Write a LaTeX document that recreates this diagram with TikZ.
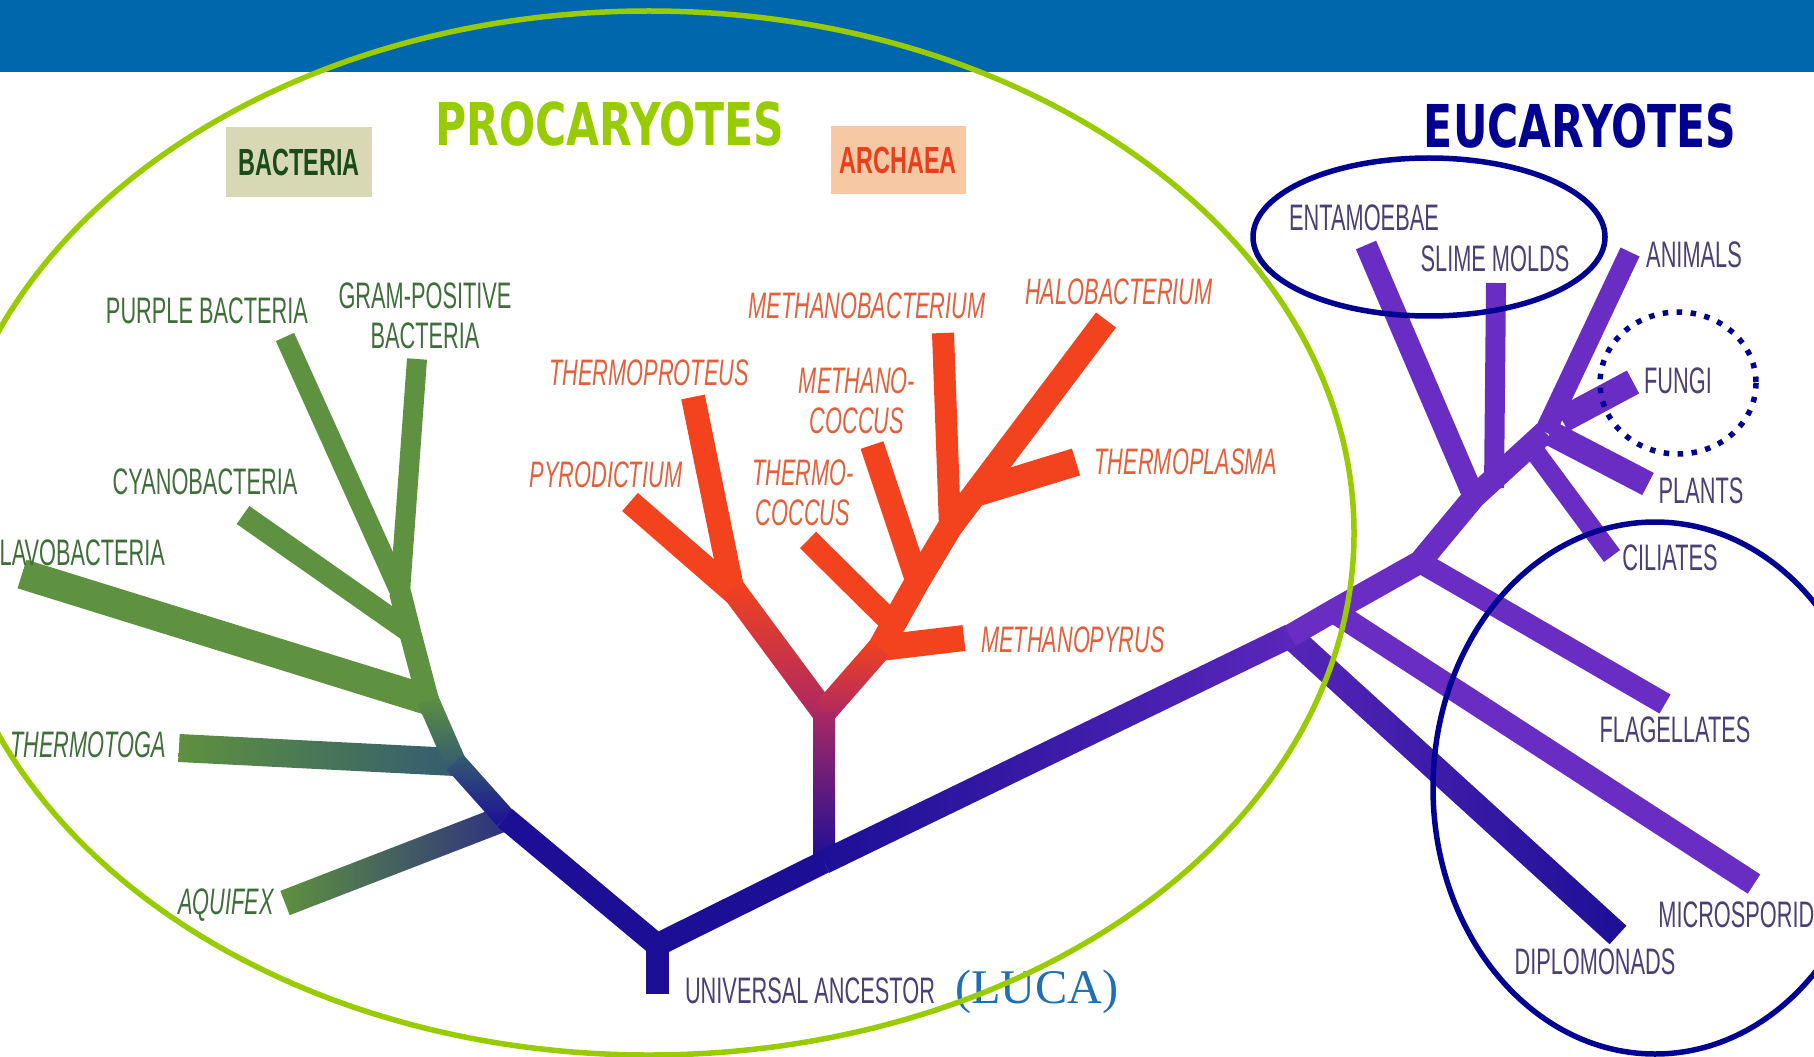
\documentclass[tikz,border=0pt]{standalone}
\usepackage{fontspec}
\setmainfont{Liberation Sans}
\newfontfamily\labfont{Liberation Sans}[FakeStretch=0.59]
\newfontfamily\boxfont{Liberation Sans}[FakeStretch=0.62]
\newfontfamily\titlefont{DejaVu Sans}[FakeStretch=0.72]
\newfontfamily\lucafont{Liberation Serif}
\usepackage{tikz}
\usetikzlibrary{calc}
\definecolor{banner}{RGB}{0,103,172}
\definecolor{lime}{RGB}{153,204,0}
\definecolor{ringblue}{RGB}{0,0,145}
\definecolor{trgreen}{RGB}{94,145,64}
\definecolor{trteal}{RGB}{52,92,112}
\definecolor{trnavy}{RGB}{28,15,150}
\definecolor{trred}{RGB}{242,66,30}
\definecolor{trmag}{RGB}{170,40,100}
\definecolor{trpurple}{RGB}{106,45,195}
\definecolor{lbgreen}{RGB}{63,110,58}
\definecolor{lbred}{RGB}{226,96,60}
\definecolor{lbpurple}{RGB}{75,63,115}
\definecolor{bactbox}{RGB}{217,216,180}
\definecolor{bacttext}{RGB}{27,74,27}
\definecolor{archbox}{RGB}{247,200,164}
\definecolor{archtext}{RGB}{232,64,28}
\definecolor{lucablue}{RGB}{31,111,178}
\tikzstyle{limbline} = [line cap=butt, line join=round]
\tikzstyle{baclabel} = [font=\labfont\fontsize{21}{23}\selectfont, text=lbgreen,
    inner sep=0pt, align=center]
\tikzstyle{arclabel} = [font=\labfont\itshape\fontsize{21}{22.5}\selectfont, text=lbred,
    inner sep=0pt, align=center]
\tikzstyle{euklabel} = [font=\labfont\fontsize{21}{23}\selectfont, text=lbpurple,
    inner sep=0pt, align=center]
\tikzstyle{boxlabel} = [font=\boxfont\bfseries\fontsize{21.5}{23}\selectfont, inner sep=0pt]
\tikzstyle{headline} = [font=\titlefont\bfseries\fontsize{33.6}{36}\selectfont, inner sep=0pt]
\tikzstyle{ring} = [draw=ringblue, line width=0.11cm]
% shaded limb between two points, half width #3
\newcommand{\gradlimb}[4]{%
  \shade[#4] ($(#1)!#3!90:(#2)$) -- ($(#1)!#3!-90:(#2)$)
    -- ($(#2)!#3!90:(#1)$) -- ($(#2)!#3!-90:(#1)$) -- cycle;}

\begin{document}
\begin{tikzpicture}[x=0.02cm,y=-0.02cm]
\useasboundingbox (0,0) rectangle (1814,1057);
\fill[banner] (0,0) rectangle (1814,72);

% headings
\node[headline, text=lime] (procar) at (610,124) {PROCARYOTES};
\node[headline, text=ringblue] (eucar) at (1580,126) {EUCARYOTES};
\node[boxlabel, fill=bactbox, text=bacttext, minimum width=2.94cm,
    minimum height=1.4cm] (bactbox) at (299,162) {BACTERIA};
\node[boxlabel, fill=archbox, text=archtext, minimum width=2.7cm,
    minimum height=1.38cm] (archbox) at (898,160) {ARCHAEA};

% bacteria
\coordinate (root) at (657,994);
\coordinate (s1) at (657,945);
\coordinate (s2) at (505,818);
\coordinate (s3) at (455,762);
\coordinate (s4) at (428,700);
\coordinate (s5) at (410,632);
\coordinate (s6) at (400,592);
\coordinate (purple) at (285,337);
\coordinate (gram) at (417,359);
\coordinate (cyano) at (243,515);
\coordinate (flavo) at (22,574);
\coordinate (thtoga) at (179,748);
\coordinate (aquif) at (285,903);

\draw[limbline, draw=trgreen, line width=0.4cm] (s6) -- (purple);
\draw[limbline, draw=trgreen, line width=0.4cm] (s6) -- (gram);
\draw[limbline, draw=trgreen, line width=0.44cm] (s5) -- (cyano);
\draw[limbline, draw=trgreen, line width=0.6cm] (s4) -- (flavo);
\gradlimb{s3}{thtoga}{0.28cm}{left color=trgreen, middle color=trgreen, right color=trteal}
\gradlimb{s2}{aquif}{0.26cm}{left color=trgreen, right color=trnavy!75!trgreen}
\draw[limbline, draw=trgreen, line width=0.44cm] (s4) -- (s5) -- (s6);
\gradlimb{s3}{s4}{0.22cm}{bottom color=trteal, top color=trgreen}
\gradlimb{s2}{s3}{0.22cm}{bottom color=trnavy, top color=trteal}

% archaea
\coordinate (a0) at (824,862);
\coordinate (afork) at (824,712);
\coordinate (al) at (732,588);
\coordinate (pybase) at (738,596);
\coordinate (tprot) at (693,397);
\coordinate (pyro) at (630,502);
\coordinate (ar1) at (880,648);
\coordinate (ar2) at (917,582);
\coordinate (ar3) at (950,527);
\coordinate (mpyr) at (964,638);
\coordinate (tcbase) at (897,628);
\coordinate (tcoc) at (808,540);
\coordinate (mcbase) at (917,580);
\coordinate (mcoc) at (872,445);
\coordinate (mbac) at (943,333);
\coordinate (halo) at (1106,320);
\coordinate (tpbase) at (978,492);
\coordinate (tplas) at (1076,462);

\draw[limbline, draw=trred, line width=0.48cm] (pybase) -- (pyro);
\draw[limbline, draw=trred, line width=0.48cm] (al) -- (tprot);
\draw[limbline, draw=trred, line width=0.52cm] (ar1) -- (mpyr);
\draw[limbline, draw=trred, line width=0.46cm] (tcbase) -- (tcoc);
\draw[limbline, draw=trred, line width=0.48cm] (mcbase) -- (mcoc);
\draw[limbline, draw=trred, line width=0.44cm] (ar3) -- (mbac);
\draw[limbline, draw=trred, line width=0.56cm] (tpbase) -- (tplas);
\draw[limbline, draw=trred, line width=0.5cm] (ar1) -- (ar2) -- (ar3) -- (halo);
\gradlimb{afork}{al}{0.25cm}{bottom color=trmag, top color=trred}
\gradlimb{afork}{ar1}{0.25cm}{bottom color=trmag, top color=trred}
\gradlimb{a0}{afork}{0.22cm}{bottom color=trnavy, top color=trmag}

% eucaryotes
\coordinate (e2) at (1290,636);
\coordinate (e3) at (1333,611);
\coordinate (e4) at (1420,562);
\coordinate (e5) at (1474,497);
\coordinate (e6) at (1545,432);
\coordinate (anim) at (1630,252);
\coordinate (entam) at (1366,245);
\coordinate (slime) at (1496,283);
\coordinate (slbase) at (1494,488);
\coordinate (fgbase) at (1562,420);
\coordinate (fungi) at (1633,382);
\coordinate (plbase) at (1550,433);
\coordinate (plant) at (1648,484);
\coordinate (cibase) at (1530,445);
\coordinate (cilia) at (1612,556);
\coordinate (flag) at (1665,704);
\coordinate (micro) at (1754,884);
\coordinate (diplo) at (1618,935);

\draw[limbline, draw=trpurple, line width=0.44cm] (e5) -- (entam);
\draw[limbline, draw=trpurple, line width=0.4cm] (slbase) -- (slime);
\draw[limbline, draw=trpurple, line width=0.52cm] (fgbase) -- (fungi);
\draw[limbline, draw=trpurple, line width=0.5cm] (plbase) -- (plant);
\draw[limbline, draw=trpurple, line width=0.4cm] (cibase) -- (cilia);
\draw[limbline, draw=trpurple, line width=0.44cm] (e4) -- (flag);
\draw[limbline, draw=trpurple, line width=0.46cm] (e3) -- (micro);
\gradlimb{e2}{diplo}{0.25cm}{left color=trpurple!75!trnavy, right color=trnavy}
\draw[limbline, draw=trpurple, line width=0.46cm] (e2) -- (e3) -- (e4) -- (e5) -- (e6);
\draw[limbline, draw=trpurple, line width=0.42cm] (e6) -- (anim);
\gradlimb{a0}{e2}{0.24cm}{left color=trnavy, right color=trpurple!80!trnavy}
\draw[limbline, draw=trnavy, line width=0.46cm] (root) -- (s1);
\draw[limbline, draw=trnavy, line width=0.46cm] (s2) -- (s1) -- (a0);

% bacteria labels
\node[baclabel] (lpurple) at (207,311) {PURPLE BACTERIA};
\node[baclabel] (lgram) at (425,316) {GRAM-POSITIVE\\BACTERIA};
\node[baclabel] (lcyano) at (205,482) {CYANOBACTERIA};
\node[baclabel, anchor=west] (lflavo) at (-14,553) {FLAVOBACTERIA};
\node[baclabel, font=\labfont\itshape\fontsize{21}{23}\selectfont] (ltoga) at (88,745) {THERMOTOGA};
\node[baclabel, font=\labfont\itshape\fontsize{21}{23}\selectfont] (laquif) at (226,905) {AQUIFEX};

% archaea labels
\node[arclabel] (lmbac) at (867,306) {METHANOBACTERIUM};
\node[arclabel] (lhalo) at (1119,292) {HALOBACTERIUM};
\node[arclabel] (ltprot) at (649,373) {THERMOPROTEUS};
\node[arclabel] (lmcoc) at (857,401) {METHANO-\\COCCUS};
\node[arclabel] (lpyro) at (606,475) {PYRODICTIUM};
\node[arclabel] (ltcoc) at (803,493) {THERMO-\\COCCUS};
\node[arclabel] (ltplas) at (1186,462) {THERMOPLASMA};
\node[arclabel] (lmpyr) at (1073,640) {METHANOPYRUS};

% eucaryote labels
\node[euklabel] (lentam) at (1364,218) {ENTAMOEBAE};
\node[euklabel] (lslime) at (1495,259) {SLIME MOLDS};
\node[euklabel] (lanim) at (1694,255) {ANIMALS};
\node[euklabel] (lfungi) at (1678,381) {FUNGI};
\node[euklabel] (lplant) at (1701,491) {PLANTS};
\node[euklabel] (lcilia) at (1670,558) {CILIATES};
\node[euklabel] (lflag) at (1675,730) {FLAGELLATES};
\node[euklabel, anchor=west] (lmicro) at (1658,915) {MICROSPORIDIA};
\node[euklabel] (ldiplo) at (1595,962) {DIPLOMONADS};
\node[euklabel] (lroot) at (810,991) {UNIVERSAL ANCESTOR};
\node[font=\lucafont\fontsize{27.5}{30}\selectfont, text=lucablue, inner sep=0pt]
    (lluca) at (1037,992) {(LUCA)};

% groupings
\draw[draw=lime, line width=0.11cm] (649,533) ellipse (705 and 522);
\draw[ring] (1429,237) ellipse (176 and 79);
\draw[ring, line cap=butt, dash pattern=on 0.11cm off 0.17cm] (1678,383) ellipse (78 and 71);
\draw[ring] (1655,788) ellipse (222 and 266);
\end{tikzpicture}
\end{document}
